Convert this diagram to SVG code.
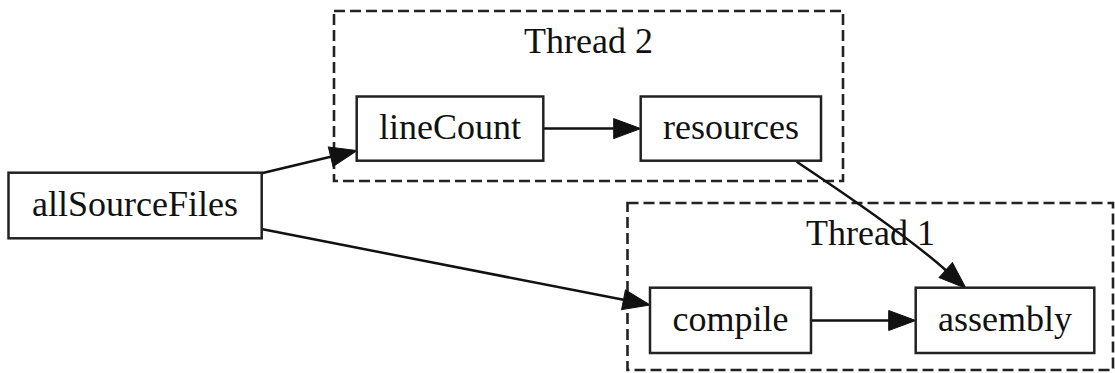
<svg xmlns="http://www.w3.org/2000/svg" width="1115" height="373" viewBox="0 0 1115 373">
<style>
.cluster{fill:none;stroke:#222;stroke-width:2.6;stroke-dasharray:11,5}
.node rect{fill:#fff;stroke:#222;stroke-width:2.5}
text{font-family:"Liberation Serif","Times New Roman",serif;font-size:36px;fill:#111;text-anchor:middle}
.edge{fill:none;stroke:#111;stroke-width:2.5;marker-end:url(#arr)}
</style>
<defs>
<marker id="arr" markerUnits="userSpaceOnUse" markerWidth="30" markerHeight="22" refX="0" refY="10" orient="auto" overflow="visible">
<path d="M0,0 L27,10 L0,20 Z" fill="#111" stroke="#111" stroke-width="1"/>
</marker>
</defs>
<rect width="1115" height="373" fill="#fff"/>
<g id="cluster_thread2">
<rect class="cluster" x="334" y="11" width="509" height="170"/>
<text x="588.5" y="53">Thread 2</text>
</g>
<g id="cluster_thread1">
<rect class="cluster" x="627.5" y="203" width="485.5" height="167"/>
<text x="870.5" y="245">Thread 1</text>
</g>
<g id="edges">
<path class="edge" d="M261.7,173.3 L330.7,156.8"/>
<path class="edge" d="M262.7,229.3 L623.5,299.8"/>
<path class="edge" d="M543.3,128.6 L613.7,128.6"/>
<path class="edge" d="M811,320.5 L888.7,320.5"/>
<path class="edge" d="M796.7,161.7 C841.7,191.7 909.5,237.8 945.8,270.2"/>
</g>
<g id="node_allSourceFiles" class="node">
<rect x="8.5" y="172.7" width="253.2" height="65.6"/>
<text x="135" y="216">allSourceFiles</text>
</g>
<g id="node_lineCount" class="node">
<rect x="356.7" y="96.5" width="186.6" height="64.2"/>
<text x="450" y="139">lineCount</text>
</g>
<g id="node_resources" class="node">
<rect x="640.7" y="96.5" width="180.3" height="64.2"/>
<text x="731" y="139">resources</text>
</g>
<g id="node_compile" class="node">
<rect x="650" y="287.7" width="161" height="65.3"/>
<text x="730.5" y="331">compile</text>
</g>
<g id="node_assembly" class="node">
<rect x="915.7" y="287.7" width="178.6" height="65.3"/>
<text x="1005" y="331">assembly</text>
</g>
</svg>
